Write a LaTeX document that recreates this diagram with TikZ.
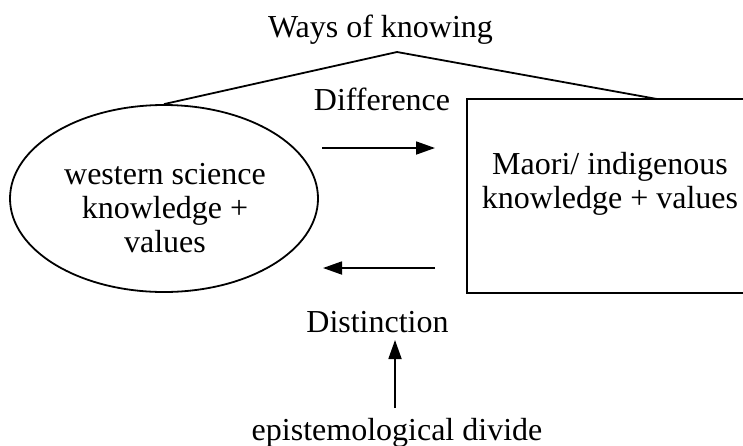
\documentclass[tikz,border=0pt]{standalone}
\usepackage{fontspec}
\setmainfont{Liberation Serif}
\usetikzlibrary{arrows.meta,shapes.geometric}
\begin{document}
\begin{tikzpicture}[x=1pt,y=-1pt,
  every node/.style={font=\fontsize{32}{34}\selectfont, inner sep=0pt},
  line/.style={line width=1.8pt},
  arr/.style={line width=1.8pt,-{Triangle[length=19pt,width=13pt]}},
  txt/.style={align=center, anchor=base}]
\useasboundingbox (0,0) rectangle (743,445);
\node[txt] (title) at (380.5,37) {Ways of knowing};
\coordinate (apex) at (397,52);
\node[draw, line width=1.8pt, ellipse, minimum width=308pt, minimum height=187pt] (ell) at (164,198.5) {};
\node[txt] (elltext) at (165,252) {western science\\knowledge +\\values};
\node[draw, line width=1.8pt, rectangle, minimum width=280pt, minimum height=194pt] (maori) at (607,196) {};
\node[txt] (maoritext) at (610,208) {Maori/ indigenous\\knowledge + values};
\coordinate (rtop) at (657,99);
\draw[line, line join=miter] (ell.north) -- (apex) -- (rtop);
\node[txt] (diff) at (382,110) {Difference};
\node[txt] (dist) at (377.5,332) {Distinction};
\node[txt] (epi) at (397,440) {epistemological divide};
\coordinate (r1) at (322,148);
\coordinate (r2) at (435,148);
\coordinate (l1) at (435,268);
\coordinate (l2) at (323,268);
\coordinate (u1) at (395,408);
\coordinate (u2) at (395,340);
\draw[arr] (r1) -- (r2);
\draw[arr] (l1) -- (l2);
\draw[arr] (u1) -- (u2);
\end{tikzpicture}
\end{document}
